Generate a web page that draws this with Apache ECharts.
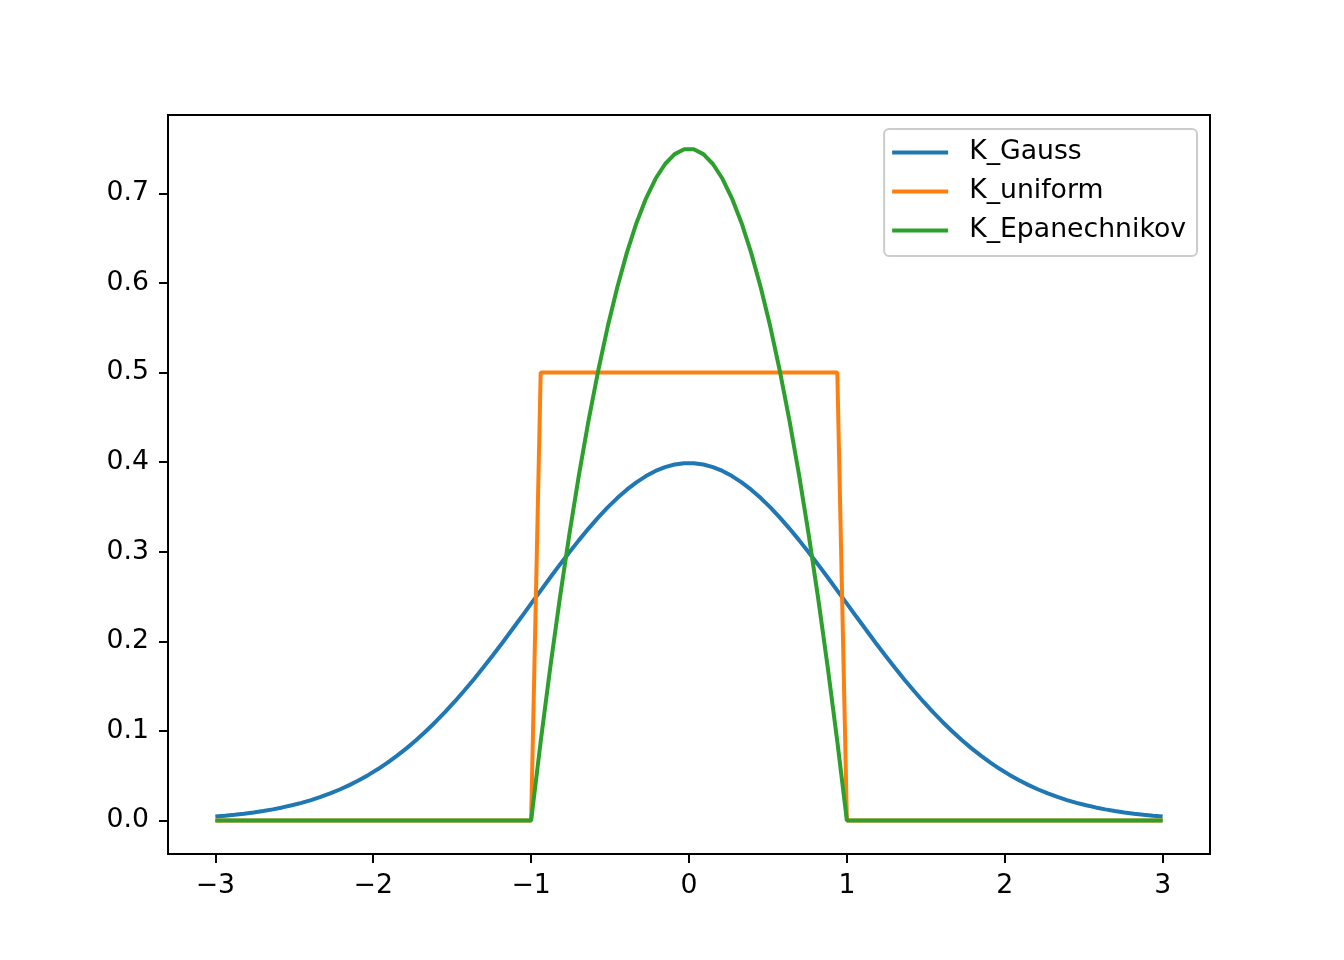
<!DOCTYPE html>
<html>
<head>
<meta charset="utf-8">
<script src="https://cdn.jsdelivr.net/npm/echarts@6/dist/echarts.min.js"></script>
<style>
html,body{margin:0;padding:0;background:#fff;}
#chart{width:1344px;height:960px;}
</style>
</head>
<body>
<div id="chart"></div>
<script>
const xs = [-3.0000,-2.9394,-2.8788,-2.8182,-2.7576,-2.6970,-2.6364,-2.5758,-2.5152,-2.4545,
-2.3939,-2.3333,-2.2727,-2.2121,-2.1515,-2.0909,-2.0303,-1.9697,-1.9091,-1.8485,
-1.7879,-1.7273,-1.6667,-1.6061,-1.5455,-1.4848,-1.4242,-1.3636,-1.3030,-1.2424,
-1.1818,-1.1212,-1.0606,-1.0000,-0.9394,-0.8788,-0.8182,-0.7576,-0.6970,-0.6364,
-0.5758,-0.5152,-0.4545,-0.3939,-0.3333,-0.2727,-0.2121,-0.1515,-0.0909,-0.0303,
0.0303,0.0909,0.1515,0.2121,0.2727,0.3333,0.3939,0.4545,0.5152,0.5758,
0.6364,0.6970,0.7576,0.8182,0.8788,0.9394,1.0000,1.0606,1.1212,1.1818,
1.2424,1.3030,1.3636,1.4242,1.4848,1.5455,1.6061,1.6667,1.7273,1.7879,
1.8485,1.9091,1.9697,2.0303,2.0909,2.1515,2.2121,2.2727,2.3333,2.3939,
2.4545,2.5152,2.5758,2.6364,2.6970,2.7576,2.8182,2.8788,2.9394,3.0000];

const kGauss = [0.0044,0.0053,0.0063,0.0075,0.0089,0.0105,0.0123,0.0145,0.0169,0.0196,
0.0227,0.0262,0.0302,0.0345,0.0394,0.0448,0.0508,0.0573,0.0645,0.0723,
0.0807,0.0897,0.0995,0.1099,0.1208,0.1325,0.1447,0.1574,0.1707,0.1844,
0.1984,0.2128,0.2273,0.2420,0.2566,0.2712,0.2855,0.2994,0.3129,0.3258,
0.3380,0.3494,0.3598,0.3692,0.3774,0.3844,0.3901,0.3944,0.3973,0.3988,
0.3988,0.3973,0.3944,0.3901,0.3844,0.3774,0.3692,0.3598,0.3494,0.3380,
0.3258,0.3129,0.2994,0.2855,0.2712,0.2566,0.2420,0.2273,0.2128,0.1984,
0.1844,0.1707,0.1574,0.1447,0.1325,0.1208,0.1099,0.0995,0.0897,0.0807,
0.0723,0.0645,0.0573,0.0508,0.0448,0.0394,0.0345,0.0302,0.0262,0.0227,
0.0196,0.0169,0.0145,0.0123,0.0105,0.0089,0.0075,0.0063,0.0053,0.0044];

const kUniform = [0,0,0,0,0,0,0,0,0,0,
0,0,0,0,0,0,0,0,0,0,
0,0,0,0,0,0,0,0,0,0,
0,0,0,0,0.5,0.5,0.5,0.5,0.5,0.5,
0.5,0.5,0.5,0.5,0.5,0.5,0.5,0.5,0.5,0.5,
0.5,0.5,0.5,0.5,0.5,0.5,0.5,0.5,0.5,0.5,
0.5,0.5,0.5,0.5,0.5,0.5,0,0,0,0,
0,0,0,0,0,0,0,0,0,0,
0,0,0,0,0,0,0,0,0,0,
0,0,0,0,0,0,0,0,0,0];

const kEpan = [0,0,0,0,0,0,0,0,0,0,
0,0,0,0,0,0,0,0,0,0,
0,0,0,0,0,0,0,0,0,0,
0,0,0,0,0.0881,0.1708,0.2479,0.3196,0.3857,0.4463,
0.5014,0.5510,0.5950,0.6336,0.6667,0.6942,0.7163,0.7328,0.7438,0.7493,
0.7493,0.7438,0.7328,0.7163,0.6942,0.6667,0.6336,0.5950,0.5510,0.5014,
0.4463,0.3857,0.3196,0.2479,0.1708,0.0881,0,0,0,0,
0,0,0,0,0,0,0,0,0,0,
0,0,0,0,0,0,0,0,0,0,
0,0,0,0,0,0,0,0,0,0];

const seriesNames = ['K_Gauss', 'K_uniform', 'K_Epanechnikov'];
const xTicks = [-3, -2, -1, 0, 1, 2, 3];
const yTicks = [0, 0.1, 0.2, 0.3, 0.4, 0.5, 0.6, 0.7];

const FONT = 'DejaVu Sans';
const FS = 26.7;
const colors = ['#1f77b4', '#ff7f0e', '#2ca02c'];
const seriesValues = [kGauss, kUniform, kEpan];

const chart = echarts.init(document.getElementById('chart'), null, {renderer: 'canvas'});
chart.setOption({
  animation: false,
  backgroundColor: '#fff',
  color: colors,
  grid: {
    left: 168, right: 134, top: 115, bottom: 106,
    show: true, borderColor: '#000', borderWidth: 2, backgroundColor: 'transparent'
  },
  legend: {
    orient: 'vertical',
    right: 147,
    top: 129,
    padding: [10, 11, 12, 8],
    itemGap: 12,
    itemWidth: 56,
    itemHeight: 4,
    icon: 'rect',
    backgroundColor: 'rgba(255,255,255,0.8)',
    borderColor: '#cccccc',
    borderWidth: 2,
    borderRadius: 5,
    textStyle: {
      fontFamily: FONT, fontSize: FS, color: '#000', lineHeight: 27,
      padding: [0, 0, 0, 16]
    },
    data: seriesNames
  },
  xAxis: {
    type: 'value',
    min: -3.3, max: 3.3,
    axisLine: {show: false, onZero: false},
    splitLine: {show: false},
    axisTick: {show: true, inside: false, customValues: xTicks, length: 9, lineStyle: {color: '#000', width: 2}},
    axisLabel: {
      customValues: xTicks,
      margin: 19,
      fontFamily: FONT, fontSize: FS, color: '#000',
      formatter: v => (v < 0 ? '\u2212' + Math.abs(v) : String(v))
    }
  },
  yAxis: {
    type: 'value',
    min: -0.0375, max: 0.7875,
    axisLine: {show: false, onZero: false},
    splitLine: {show: false},
    axisTick: {show: true, inside: false, customValues: yTicks, length: 9, lineStyle: {color: '#000', width: 2}},
    axisLabel: {
      customValues: yTicks,
      margin: 19,
      padding: [4, 0, 0, 0],
      fontFamily: FONT, fontSize: FS, color: '#000',
      formatter: v => v.toFixed(1)
    }
  },
  series: seriesNames.map((name, s) => ({
    name: name,
    type: 'line',
    symbol: 'none',
    showSymbol: false,
    lineStyle: {width: 4, color: colors[s]},
    itemStyle: {color: colors[s]},
    data: xs.map((x, i) => [x, seriesValues[s][i]])
  }))
});
</script>
</body>
</html>
